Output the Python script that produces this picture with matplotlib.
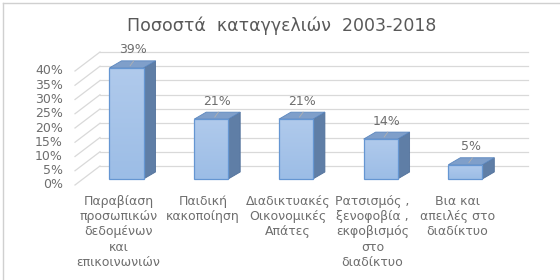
import numpy as np
import matplotlib.pyplot as plt
from matplotlib.patches import Polygon, Rectangle
from matplotlib.lines import Line2D
from matplotlib.colors import LinearSegmentedColormap

# data
categories = ["Παραβίαση\nπροσωπικών\nδεδομένων\nκαι\nεπικοινωνιών",
              "Παιδική\nκακοποίηση",
              "Διαδικτυακές\nΟικονομικές\nΑπάτες",
              "Ρατσισμός ,\nξενοφοβία ,\nεκφοβισμός\nστο\nδιαδίκτυο",
              "Βια και\nαπειλές στο\nδιαδίκτυο"]
values = [39, 21, 21, 14, 5]
yticks = [0, 5, 10, 15, 20, 25, 30, 35, 40]
title = "Ποσοστά  καταγγελιών  2003-2018"

# layout (pixels of the 560x280 picture)
W, H = 560, 280
STEP = 84.7      # px between categories
SCALE = 2.85     # px per percent
X0, Y0 = 126.5, 179   # centre of first bar / zero line of bar fronts
BAR_W = 34 / STEP
DX, DY = 12 / STEP, 7 / SCALE            # bar depth
WALL_X0, WALL_X1 = (100 - X0) / STEP, (528 - X0) / STEP
WALL_DY = 13 / SCALE                     # back wall above bar fronts
FRONT_X = (75 - X0) / STEP
FRONT_DY = -6 / SCALE                    # label plane below bar fronts

txt = '#6e6e6e'
grid = '#d9d9d9'

fig = plt.figure(figsize=(5.6, 2.8), dpi=100)
ax = fig.add_axes([0, 0, 1, 1])
ax.axis('off')

# gridlines on back wall + diagonals on the side wall
for v in yticks:
    ax.plot([WALL_X0, WALL_X1], [v + WALL_DY, v + WALL_DY], color=grid, lw=0.9, zorder=1)
    ax.plot([FRONT_X, WALL_X0], [v + FRONT_DY, v + WALL_DY], color=grid, lw=0.9, zorder=1)
    ax.text(FRONT_X - 12 / STEP, v + FRONT_DY, "%d%%" % v, ha='right', va='center',
            fontsize=9, color=txt)

# gradient for bar fronts
grad = np.linspace(0, 1, 64).reshape(-1, 1)
cmap = LinearSegmentedColormap.from_list('front', ['#9cbde6', '#b0caec'])

for i, v in enumerate(values):
    l, r = i - BAR_W / 2, i + BAR_W / 2
    side = Polygon([(r, 0), (r + DX, DY), (r + DX, v + DY), (r, v)], closed=True,
                   facecolor='#5f7ea6', edgecolor='#50709a', lw=0.6, zorder=3)
    top = Polygon([(l, v), (r, v), (r + DX, v + DY), (l + DX, v + DY)], closed=True,
                  facecolor='#7f9fca', edgecolor='#5b87bf', lw=0.6, zorder=3)
    ax.add_patch(side)
    ax.add_patch(top)
    front = Rectangle((l, 0), BAR_W, v, facecolor='none', edgecolor='#6596d2', lw=0.9, zorder=5)
    ax.add_patch(front)
    im = ax.imshow(grad, cmap=cmap, extent=(l, r, 0, v), origin='lower', aspect='auto', zorder=4)
    im.set_clip_path(front)
    # data label with little leader line
    cx = i + DX / 2
    ax.plot([cx + DX * 0.1, cx - DX * 0.2], [v + DY * 1.0, v + DY * 0.3], color='#b0b0b0', lw=0.6, zorder=6)
    ax.text(cx, v + DY + 11 / SCALE, "%d%%" % v, ha='center', va='center', fontsize=9, color=txt)

# category labels
for i, c in enumerate(categories):
    ax.text(i - 8 / STEP, (Y0 - 195) / SCALE, c, ha='center', va='top', fontsize=9,
            color=txt, linespacing=1.22)

fig.text(282 / W, 1 - 26 / H, title, ha='center', va='center', fontsize=12.5, color='#595959')

ax.set_xlim(-X0 / STEP, (W - X0) / STEP)
ax.set_ylim((Y0 - H) / SCALE, Y0 / SCALE)

# chart border (left and top visible)
fig.add_artist(Line2D([3 / W, 3 / W], [0, 1 - 3 / H], color='#d0d0d0', lw=1))
fig.add_artist(Line2D([3 / W, 1], [1 - 3 / H, 1 - 3 / H], color='#d0d0d0', lw=1))

fig.savefig('out.png', dpi=100)
